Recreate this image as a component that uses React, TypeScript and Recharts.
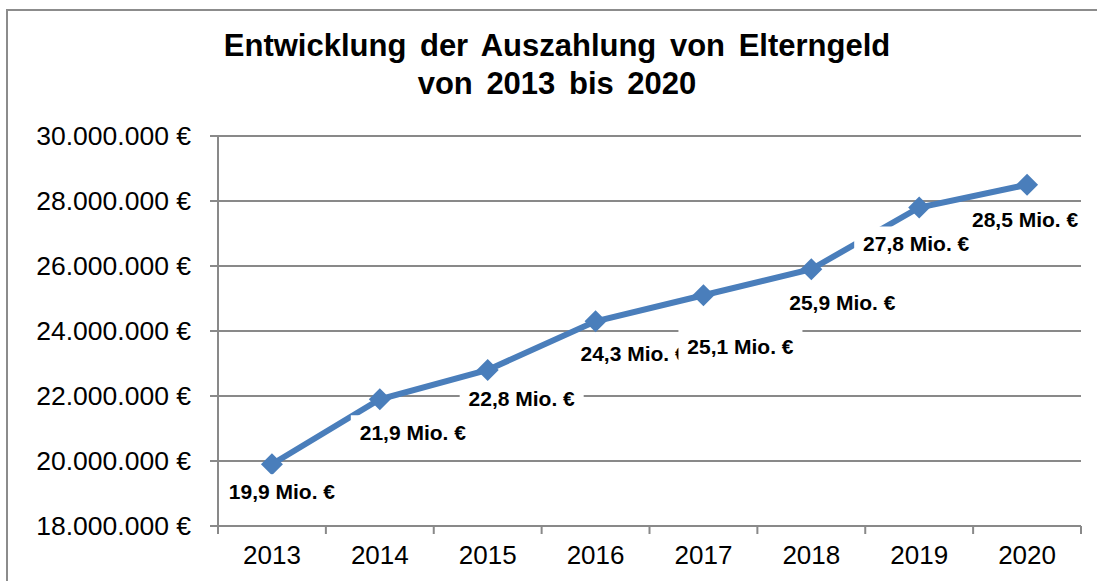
import { LineChart, Line, XAxis, YAxis, CartesianGrid, LabelList } from 'recharts';

// Auszahlung Elterngeld je Jahr (in Euro)
const years = ['2013', '2014', '2015', '2016', '2017', '2018', '2019', '2020'];
const payouts = [19900000, 21900000, 22800000, 24300000, 25100000, 25900000, 27800000, 28500000];
const yTicks = [18000000, 20000000, 22000000, 24000000, 26000000, 28000000, 30000000];

// where each data label sits relative to its point (as in the original Excel chart)
const LABEL_OFFSETS: [number, number][] = [
    [10, 27],
    [33, 33],
    [34, 28],
    [38, 32],
    [37, 51],
    [31, 33],
    [-3, 36],
    [-2, 35],
];

const FONT = '"Liberation Sans", Arial, sans-serif';
const LINE_COLOR = '#4a7ebb';
const GRID_COLOR = '#898989';

const WIDTH = 1097;
const HEIGHT = 581;
const X_AXIS_HEIGHT = 55;
const MARGIN = { top: 136, right: 16, bottom: 0, left: 0 };
const Y_AXIS_WIDTH = 218;
// one category slot on the x axis, ticks sit on the slot borders like in Excel
const SLOT = (WIDTH - MARGIN.left - MARGIN.right - Y_AXIS_WIDTH) / years.length;

const chartData = years.map((year, i) => ({ year, pos: i + 0.5, value: payouts[i] }));
const boundaryTicks = years.map((_, i) => i).concat(years.length);

function formatEuro(v: number): string {
    return String(v).replace(/\B(?=(\d{3})+(?!\d))/g, '.') + ' €';
}

function formatMio(v: number): string {
    return (v / 1000000).toFixed(1).replace('.', ',') + ' Mio. €';
}

// eslint-disable-next-line @typescript-eslint/no-explicit-any
function YearTick(props: any) {
    const { x, y, payload } = props;
    const label = years[payload.value];
    if (!label) return null;
    return (
        <text
            x={x + SLOT / 2}
            y={y + 19}
            textAnchor="middle"
            dominantBaseline="central"
            fontFamily={FONT}
            fontSize={26}
            fill="#000"
        >
            {label}
        </text>
    );
}

// eslint-disable-next-line @typescript-eslint/no-explicit-any
function Diamond(props: any) {
    const { cx, cy, index } = props;
    if (cx == null || cy == null) return null;
    const r = 11;
    return (
        <path
            key={`d-${index}`}
            d={`M${cx},${cy - r} L${cx + r},${cy} L${cx},${cy + r} L${cx - r},${cy} Z`}
            fill={LINE_COLOR}
        />
    );
}

// eslint-disable-next-line @typescript-eslint/no-explicit-any
function DataLabel(props: any) {
    const { x, y, value } = props;
    const index = props.index ?? payouts.indexOf(value);
    const [dx, dy] = LABEL_OFFSETS[index] ?? [0, 30];
    const cx = Number(x) + dx;
    const cy = Number(y) + dy;
    return (
        <g>
            <rect x={cx - 62} y={cy - 17} width={124} height={34} fill="#fff" />
            <text
                x={cx}
                y={cy}
                textAnchor="middle"
                dominantBaseline="central"
                fontFamily={FONT}
                fontWeight="bold"
                fontSize={21}
                fill="#000"
            >
                {formatMio(value)}
            </text>
        </g>
    );
}

export default function App() {
    return (
        <div
            style={{
                position: 'absolute',
                left: 0,
                top: 0,
                width: WIDTH,
                height: HEIGHT,
                overflow: 'hidden',
                background: '#fff',
                fontFamily: FONT,
            }}
        >
            <div
                style={{
                    position: 'absolute',
                    left: 6,
                    top: 9,
                    width: 1200,
                    height: 700,
                    border: '2px solid #8c8c8c',
                }}
            />
            <div
                style={{
                    position: 'absolute',
                    left: 0,
                    top: 27,
                    width: 1114,
                    textAlign: 'center',
                    fontWeight: 'bold',
                    fontSize: 31,
                    lineHeight: '38px',
                    color: '#000',
                    wordSpacing: 5,
                }}
            >
                Entwicklung der Auszahlung von Elterngeld
                <br />
                von 2013 bis 2020
            </div>
            <div style={{ position: 'absolute', left: 0, top: 0 }}>
                <LineChart width={WIDTH} height={HEIGHT} data={chartData} margin={MARGIN}>
                    <CartesianGrid vertical={false} stroke={GRID_COLOR} strokeWidth={2} />
                    <XAxis
                        type="number"
                        dataKey="pos"
                        domain={[0, years.length]}
                        ticks={boundaryTicks}
                        interval={0}
                        tick={YearTick}
                        tickSize={8}
                        height={X_AXIS_HEIGHT}
                        stroke={GRID_COLOR}
                        strokeWidth={2}
                    />
                    <YAxis
                        domain={[18000000, 30000000]}
                        ticks={yTicks}
                        tickFormatter={formatEuro}
                        width={Y_AXIS_WIDTH}
                        tickSize={8}
                        tickMargin={19}
                        stroke={GRID_COLOR}
                        strokeWidth={2}
                        tick={{ fill: '#000', fontSize: 26.5, fontFamily: FONT }}
                        interval={0}
                    />
                    <Line
                        type="linear"
                        dataKey="value"
                        stroke={LINE_COLOR}
                        strokeWidth={6}
                        dot={Diamond}
                        activeDot={false}
                        isAnimationActive={false}
                    >
                        <LabelList dataKey="value" content={DataLabel} />
                    </Line>
                </LineChart>
            </div>
        </div>
    );
}
